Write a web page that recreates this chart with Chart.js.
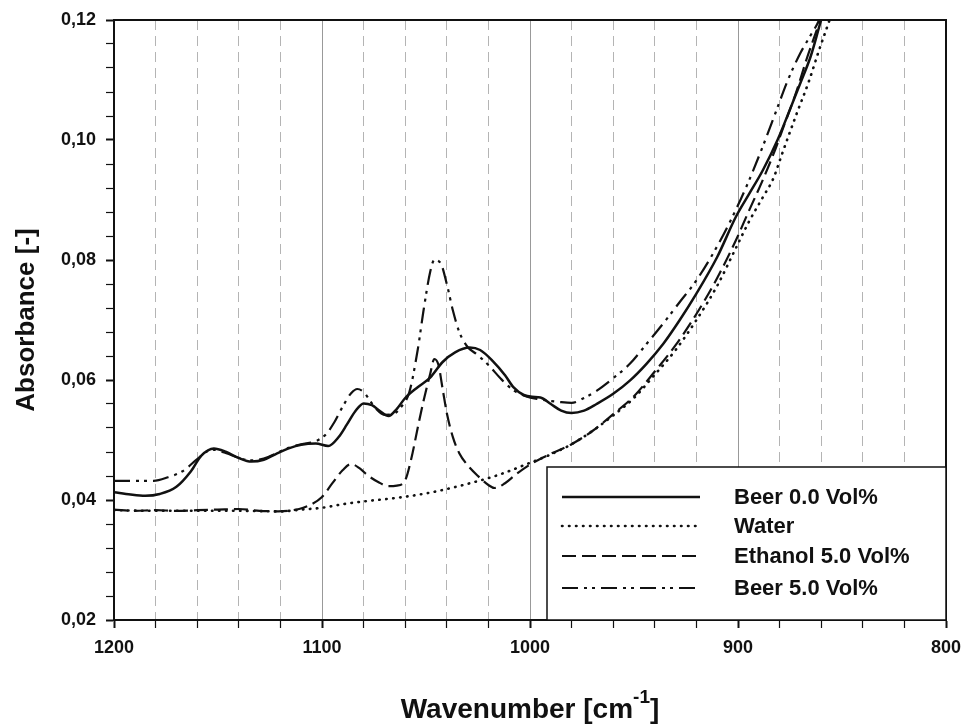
<!DOCTYPE html>
<html>
<head>
<meta charset="utf-8">
<script src="https://cdn.jsdelivr.net/npm/chart.js@4.4.1/dist/chart.umd.min.js"></script>
<style>
  body { margin: 0; background: #fff; }
  #wrap { width: 963px; height: 724px; }
</style>
</head>
<body>
<div id="wrap"><canvas id="graphic"></canvas></div>
<script>
const seriesNames = ["Beer 0.0 Vol%", "Water", "Ethanol 5.0 Vol%", "Beer 5.0 Vol%"];

const beer0Wn = [1200, 1192, 1185, 1178, 1170, 1163, 1158, 1152, 1146, 1140, 1134, 1128, 1122, 1116, 1110, 1103, 1097, 1092, 1088, 1084, 1080, 1076, 1072, 1068, 1064, 1060, 1054, 1048, 1042, 1036, 1029, 1024, 1018, 1012, 1008, 1003, 999, 995, 990, 985, 980, 974, 968, 960, 952, 944, 936, 928, 920, 910, 901, 895, 888, 881, 875, 870, 865, 860, 854];
const beer0Abs = [0.0413, 0.0409, 0.0407, 0.0410, 0.0422, 0.0448, 0.0474, 0.0486, 0.0480, 0.0470, 0.0464, 0.0467, 0.0477, 0.0486, 0.0492, 0.0494, 0.0490, 0.0505, 0.0526, 0.0548, 0.0561, 0.0558, 0.0548, 0.0540, 0.0552, 0.0570, 0.0588, 0.0604, 0.0630, 0.0646, 0.0654, 0.0650, 0.0632, 0.0608, 0.0588, 0.0575, 0.0572, 0.0571, 0.0560, 0.0549, 0.0545, 0.0549, 0.0560, 0.0577, 0.0599, 0.0627, 0.0660, 0.0700, 0.0744, 0.0805, 0.0872, 0.0908, 0.0950, 0.1000, 0.1051, 0.1095, 0.1140, 0.1200, 0.1265];

const waterWn = [1200, 1180, 1160, 1140, 1120, 1110, 1100, 1090, 1079, 1063, 1047, 1031, 1015, 1000, 990, 980, 970, 960, 950, 941, 930, 920, 910, 901, 895, 888, 883, 879, 872, 866, 861, 856, 850];
const waterAbs = [0.0383, 0.0382, 0.0382, 0.0382, 0.0381, 0.0384, 0.0387, 0.0393, 0.0398, 0.0404, 0.0413, 0.0426, 0.0442, 0.0462, 0.0476, 0.0493, 0.0515, 0.0541, 0.0570, 0.0605, 0.0650, 0.0700, 0.0757, 0.0820, 0.0862, 0.0905, 0.0936, 0.0975, 0.1042, 0.1097, 0.1150, 0.1200, 0.1265];

const ethanolWn = [1200, 1190, 1180, 1170, 1160, 1150, 1140, 1130, 1121, 1111, 1105, 1100, 1095, 1090, 1086, 1082, 1078, 1073, 1068, 1064, 1060, 1057, 1054, 1051, 1048, 1046, 1044, 1042, 1040, 1037, 1034, 1030, 1025, 1020, 1017, 1012, 1007, 1000, 990, 980, 970, 960, 950, 941, 930, 920, 910, 901, 895, 888, 882, 878, 872, 867, 861, 855];
const ethanolAbs = [0.0384, 0.0382, 0.0383, 0.0382, 0.0383, 0.0384, 0.0385, 0.0382, 0.0381, 0.0385, 0.0393, 0.0405, 0.0428, 0.0450, 0.0460, 0.0453, 0.0441, 0.0430, 0.0423, 0.0424, 0.0433, 0.0470, 0.0520, 0.0568, 0.0610, 0.0635, 0.0625, 0.0585, 0.0545, 0.0504, 0.0478, 0.0458, 0.0440, 0.0425, 0.0420, 0.0428, 0.0442, 0.0459, 0.0477, 0.0493, 0.0515, 0.0543, 0.0573, 0.0610, 0.0658, 0.0710, 0.0770, 0.0833, 0.0880, 0.0934, 0.0985, 0.1023, 0.1080, 0.1135, 0.1195, 0.1260];

const beer5Wn = [1200, 1190, 1181, 1174, 1167, 1160, 1153, 1146, 1140, 1134, 1128, 1122, 1116, 1110, 1103, 1098, 1094, 1090, 1086, 1083, 1080, 1077, 1074, 1070, 1066, 1062, 1058, 1054, 1051, 1048, 1046, 1043, 1040, 1037, 1034, 1030, 1026, 1020, 1014, 1008, 1002, 996, 990, 985, 980, 974, 968, 960, 952, 944, 936, 928, 920, 910, 901, 895, 888, 882, 876, 870, 865, 861, 855];
const beer5Abs = [0.0432, 0.0432, 0.0432, 0.0438, 0.0448, 0.0468, 0.0484, 0.0478, 0.0470, 0.0466, 0.0469, 0.0478, 0.0487, 0.0493, 0.0498, 0.0510, 0.0530, 0.0556, 0.0578, 0.0585, 0.0580, 0.0566, 0.0552, 0.0542, 0.0543, 0.0555, 0.0580, 0.0650, 0.0720, 0.0780, 0.0800, 0.0795, 0.0760, 0.0715, 0.0680, 0.0655, 0.0644, 0.0625, 0.0602, 0.0583, 0.0573, 0.0568, 0.0565, 0.0563, 0.0562, 0.0570, 0.0582, 0.0603, 0.0627, 0.0660, 0.0694, 0.0730, 0.0766, 0.0823, 0.0884, 0.0930, 0.0990, 0.1045, 0.1100, 0.1145, 0.1175, 0.1200, 0.1260];

const xMin = 800, xMax = 1200;
const yMin = 0.02, yMax = 0.12;

Chart.defaults.font.family = '"Liberation Sans", Arial, sans-serif';
Chart.defaults.color = "#111";

function points(wn, abs) {
  return wn.map((w, i) => ({ x: w, y: abs[i] }));
}

function makeSet(label, wn, abs, dash, width, cap) {
  return {
    label: label,
    data: points(wn, abs),
    borderColor: "#111",
    borderWidth: width,
    borderDash: dash,
    borderCapStyle: cap || "butt",
    pointRadius: 0,
    fill: false,
    cubicInterpolationMode: "monotone",
    clip: 0,
  };
}

// frame on top and right of the plot
const framePlugin = {
  id: "frame",
  afterDatasetsDraw(chart) {
    const { ctx, chartArea: a } = chart;
    ctx.save();
    ctx.strokeStyle = "#111";
    ctx.lineWidth = 2;
    ctx.beginPath();
    ctx.moveTo(a.left, a.top);
    ctx.lineTo(a.right, a.top);
    ctx.lineTo(a.right, a.bottom);
    ctx.stroke();
    ctx.restore();
  },
};

// legend box inside the plot, lower right
const legendBox = {
  id: "legendBox",
  afterDraw(chart) {
    const { ctx, chartArea: a } = chart;
    const left = a.right - 399;
    const top = a.bottom - 153;
    ctx.save();
    ctx.fillStyle = "#fff";
    ctx.fillRect(left, top, a.right - left, a.bottom - top);
    ctx.strokeStyle = "#111";
    ctx.lineWidth = 1.5;
    ctx.strokeRect(left, top, a.right - left, a.bottom - top);
    const rows = [30, 59, 89, 121];
    chart.data.datasets.forEach((ds, i) => {
      const y = top + rows[i];
      ctx.strokeStyle = ds.borderColor;
      ctx.lineWidth = ds.borderWidth;
      ctx.lineCap = ds.borderCapStyle;
      ctx.setLineDash(ds.borderDash);
      ctx.beginPath();
      ctx.moveTo(left + 15, y);
      ctx.lineTo(left + 153, y);
      ctx.stroke();
      ctx.setLineDash([]);
      ctx.fillStyle = "#111";
      ctx.font = 'bold 22px "Liberation Sans", Arial, sans-serif';
      ctx.textBaseline = "middle";
      ctx.textAlign = "left";
      ctx.fillText(ds.label, left + 187, y + 1);
    });
    ctx.restore();
  },
};

// x axis title with superscript
const xTitle = {
  id: "xTitle",
  afterDraw(chart) {
    const { ctx, chartArea: a } = chart;
    const big = 'bold 28px "Liberation Sans", Arial, sans-serif';
    const small = 'bold 19px "Liberation Sans", Arial, sans-serif';
    const parts = [["Wavenumber [cm", big, 0], ["-1", small, -15], ["]", big, 0]];
    ctx.save();
    ctx.fillStyle = "#111";
    ctx.textBaseline = "alphabetic";
    ctx.textAlign = "left";
    let total = 0;
    parts.forEach((p) => { ctx.font = p[1]; total += ctx.measureText(p[0]).width; });
    let x = (a.left + a.right) / 2 - total / 2;
    const base = 718;
    parts.forEach((p) => {
      ctx.font = p[1];
      ctx.fillText(p[0], x, base + p[2]);
      x += ctx.measureText(p[0]).width;
    });
    ctx.restore();
  },
};

window.myChart = new Chart(document.getElementById("graphic"), {
  type: "line",
  data: {
    datasets: [
      makeSet(seriesNames[0], beer0Wn, beer0Abs, [], 2.5),
      makeSet(seriesNames[1], waterWn, waterAbs, [0.5, 6.5], 2.6, "round"),
      makeSet(seriesNames[2], ethanolWn, ethanolAbs, [14, 6], 2.2),
      makeSet(seriesNames[3], beer5Wn, beer5Abs, [16, 6, 3, 5, 3, 6], 2.2),
    ],
  },
  options: {
    responsive: true,
    maintainAspectRatio: false,
    animation: false,
    layout: { padding: { top: 20, right: 17, left: 0, bottom: 0 } },
    plugins: {
      legend: { display: false },
      tooltip: { enabled: false },
    },
    scales: {
      x: {
        type: "linear",
        reverse: true,
        min: xMin,
        max: xMax,
        afterFit: (s) => { s.height = 104; s.paddingLeft = 0; s.paddingRight = 0; },
        ticks: {
          stepSize: 20,
          autoSkip: false,
          maxRotation: 0,
          padding: 9,
          color: "#111",
          font: { size: 18, weight: "bold" },
          callback: (v) => (v % 100 === 0 ? String(v) : ""),
        },
        grid: {
          color: (c) => (c.tick && c.tick.value % 100 === 0 ? "rgba(0,0,0,0)" : "#b4b4b4"),
          lineWidth: 1,
          tickColor: "#111",
          tickWidth: (c) => (c.tick && c.tick.value % 100 === 0 ? 2 : 1.2),
          tickLength: 8,
        },
        border: { display: true, color: "#111", width: 2, dash: [10, 6] },
      },
      x2: {
        type: "linear",
        reverse: true,
        min: xMin,
        max: xMax,
        position: "bottom",
        afterFit: (s) => { s.height = 0; s.paddingLeft = 0; s.paddingRight = 0; },
        ticks: { display: false, stepSize: 100 },
        grid: {
          drawTicks: false,
          color: (c) => (c.tick && c.tick.value % 100 === 0 && c.tick.value !== xMin && c.tick.value !== xMax ? "#999" : "rgba(0,0,0,0)"),
          lineWidth: 1,
        },
        border: { display: false },
      },
      y: {
        min: yMin,
        max: yMax,
        afterFit: (s) => { s.width = 114; s.paddingTop = 0; s.paddingBottom = 0; },
        title: {
          display: true,
          text: "Absorbance [-]",
          color: "#111",
          font: { size: 26, weight: "bold" },
          padding: { top: 11, bottom: 0 },
        },
        ticks: {
          stepSize: 0.004,
          autoSkip: false,
          padding: 10,
          color: "#111",
          font: { size: 18, weight: "bold" },
          callback: (v) => (Math.round(v * 1000) % 20 === 0 ? v.toFixed(2).replace(".", ",") : ""),
        },
        grid: {
          drawOnChartArea: false,
          tickColor: "#111",
          tickWidth: (c) => (c.tick && Math.round(c.tick.value * 1000) % 20 === 0 ? 2 : 1.2),
          tickLength: 8,
        },
        border: { display: true, color: "#111", width: 2 },
      },
    },
  },
  plugins: [framePlugin, legendBox, xTitle],
});
</script>
</body>
</html>
